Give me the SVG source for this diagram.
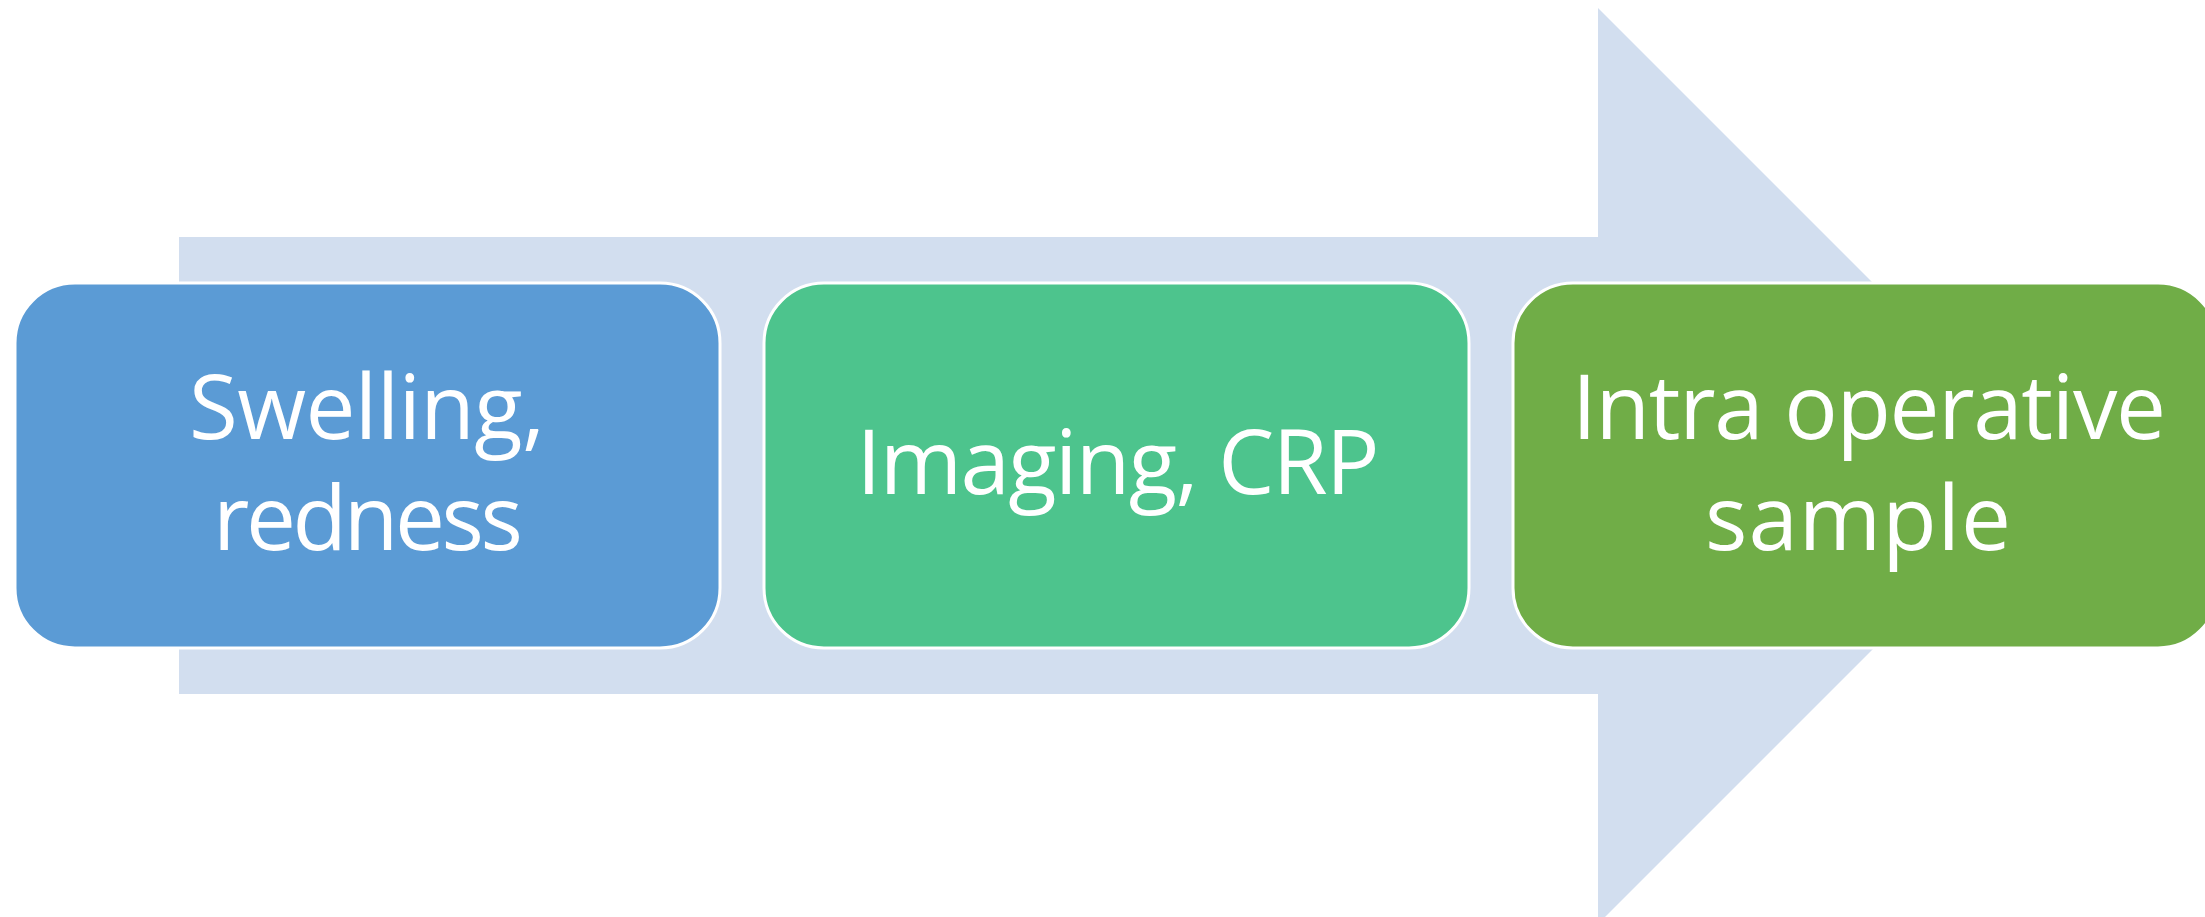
<svg xmlns="http://www.w3.org/2000/svg" width="2205" height="917" viewBox="0 0 2205 917">
  <style>
    .box { stroke: #FFFFFF; stroke-width: 3; }
    .lbl { font-family: "Open Sans", Lato, "Liberation Sans", sans-serif; font-size: 89px; fill: #FFFFFF; text-anchor: middle; }
  </style>
  <rect width="2205" height="917" fill="#FFFFFF"/>
  <g id="connectors">
    <polygon id="arrow" points="179,237 1598,237 1598,8 2056,466 1598,924 1598,694 179,694" fill="#D2DEEF"/>
  </g>
  <g id="node1">
    <rect class="box" x="15" y="283" width="705" height="365" rx="60" ry="60" fill="#5B9BD5"/>
    <text class="lbl" x="367" y="439" textLength="356" lengthAdjust="spacing">Swelling,</text>
    <text class="lbl" x="368" y="550" textLength="310" lengthAdjust="spacing">redness</text>
  </g>
  <g id="node2">
    <rect class="box" x="764" y="283" width="705" height="365" rx="60" ry="60" fill="#4DC48D"/>
    <text class="lbl" x="1118" y="494" textLength="523" lengthAdjust="spacing">Imaging, CRP</text>
  </g>
  <g id="node3">
    <rect class="box" x="1513" y="283" width="705" height="365" rx="60" ry="60" fill="#70AD47"/>
    <text class="lbl" x="1869" y="439" textLength="594" lengthAdjust="spacing">Intra operative</text>
    <text class="lbl" x="1858" y="550" textLength="306" lengthAdjust="spacing">sample</text>
  </g>
</svg>
